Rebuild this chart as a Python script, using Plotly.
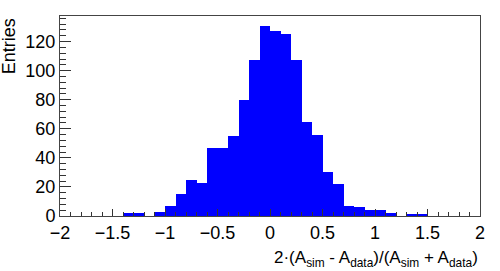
import plotly.graph_objects as go

# histogram bins (centres, width 0.1) and entries
bin_centers = [-1.35, -1.25, -1.15, -1.05, -0.95, -0.85, -0.75, -0.65, -0.55, -0.45,
               -0.35, -0.25, -0.15, -0.05, 0.05, 0.15, 0.25, 0.35, 0.45, 0.55,
               0.65, 0.75, 0.85, 0.95, 1.05, 1.15, 1.25, 1.35, 1.45]
entries = [2, 2, 0, 3, 7, 15, 25, 23, 47, 47,
           55, 80, 107, 131, 127, 125, 107, 65, 56, 30,
           22, 7, 6, 4, 4, 2, 0, 1, 1]
bin_width = 0.1

x_ticks = [-2, -1.5, -1, -0.5, 0, 0.5, 1, 1.5, 2]
y_ticks = [0, 20, 40, 60, 80, 100, 120]

font = "Liberation Sans, Arial, Helvetica, sans-serif"

fig = go.Figure()
fig.add_trace(go.Bar(x=bin_centers, y=entries, width=bin_width,
                     marker=dict(color="#0000ff", line=dict(width=0)),
                     showlegend=False, hoverinfo="skip"))

fig.update_layout(
    width=500, height=271,
    margin=dict(l=60, r=20, t=16, b=55),
    paper_bgcolor="white", plot_bgcolor="white",
    bargap=0,
    font=dict(family=font, size=17, color="black"),
)
fig.update_xaxes(range=[-2, 2], tickvals=x_ticks,
                 ticktext=["\u22122", "\u22121.5", "\u22121", "\u22120.5", "0", "0.5", "1", "1.5", "2"],
                 ticks="inside", ticklen=7, tickcolor="#333",
                 minor=dict(ticks="inside", dtick=0.1, ticklen=4, tickcolor="#333"),
                 showline=True, linecolor="#444", linewidth=1, mirror=True,
                 showgrid=False, zeroline=False, tickfont=dict(size=18))
fig.update_yaxes(range=[0, 137.6], tickvals=y_ticks,
                 ticks="inside", ticklen=11, tickcolor="#333",
                 minor=dict(ticks="inside", dtick=4, ticklen=6, tickcolor="#333"),
                 showline=True, linecolor="#444", linewidth=1, mirror=True,
                 showgrid=False, zeroline=False, tickfont=dict(size=18))

fig.add_annotation(text="2\u00b7(A<sub>sim</sub> - A<sub>data</sub>)/(A<sub>sim</sub> + A<sub>data</sub>)",
                   xref="paper", yref="paper", x=1, y=-0.15,
                   xanchor="right", yanchor="top", showarrow=False,
                   font=dict(size=17))
fig.add_annotation(text="Entries", textangle=-90,
                   xref="paper", yref="paper", x=-0.121, y=1,
                   xanchor="center", yanchor="top", showarrow=False,
                   font=dict(size=18))

fig.write_html("out.html", config={"displayModeBar": False},
               post_script="document.body.style.margin='0';")
